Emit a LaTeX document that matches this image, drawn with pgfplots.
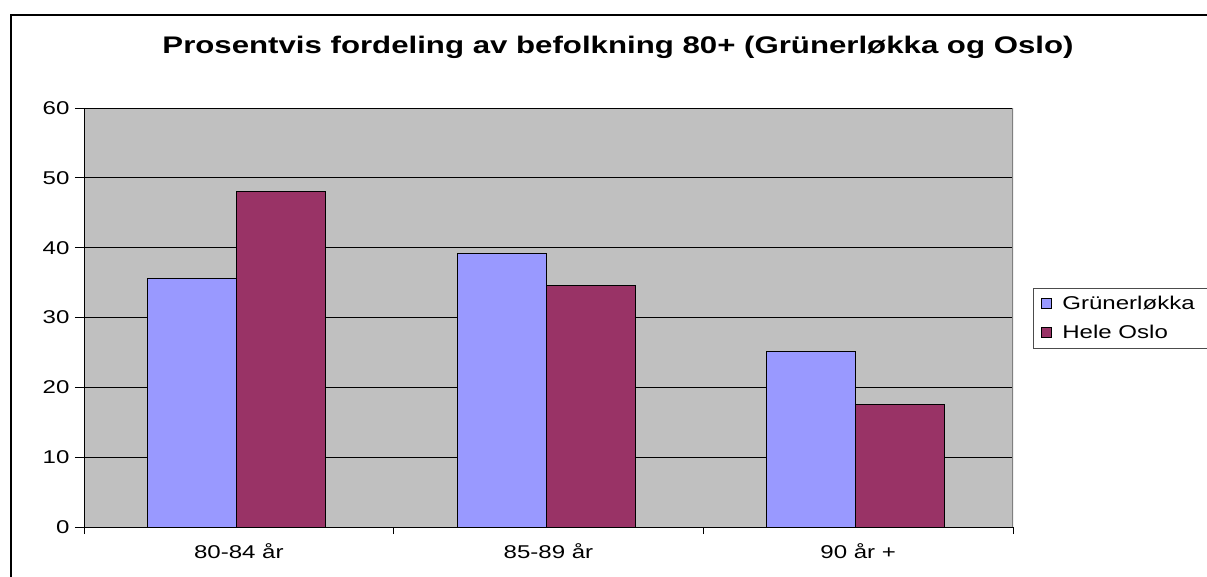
\documentclass[border=0pt]{standalone}
\usepackage{fontspec}
\setmainfont{Liberation Sans}[FakeStretch=1.3]
\usepackage{pgfplots}
\pgfplotsset{compat=1.18}
\definecolor{bgc}{HTML}{C0C0C0}
\definecolor{grun}{HTML}{9999FF}
\definecolor{oslo}{HTML}{993366}
\begin{document}
\begin{tikzpicture}[x=1pt,y=1pt]
\useasboundingbox (0,0) rectangle (1207,576);
\draw[line width=1.5pt,black] (11,-5) -- (11,561) -- (1215,561);
\node[font=\fontsize{24}{28}\selectfont\bfseries] at (618,529) {Prosentvis fordeling av befolkning 80+ (Grünerløkka og Oslo)};
\begin{axis}[
  at={(84pt,49pt)}, anchor=south west,
  scale only axis, width=929pt, height=419pt,
  xmin=-0.5, xmax=2.5, ymin=0, ymax=60,
  ytick={0,10,...,60},
  xtick={0,1,2},
  xticklabels={80-84 år, 85-89 år, 90 år +},
  minor xtick={-0.5,0.5,1.5,2.5},
  every major x tick/.style={draw=none},
  tick align=outside,
  major tick length=9pt,
  minor tick length=7pt,
  axis x line*=bottom, axis y line*=left,
  axis line style={black, line width=0.9pt},
  every tick/.style={black, line width=0.9pt},
  ymajorgrids,
  grid style={black, line width=0.9pt},
  axis background/.style={fill=bgc},
  tick label style={font=\fontsize{18.5}{22}\selectfont},
  /pgf/number format/assume math mode=true,
  yticklabel style={xshift=-2pt},
  xticklabel style={yshift=-4pt},
  ybar, bar width=89pt,
  legend style={at={(1.0215,0.5704)}, anchor=north west, draw=black!70, line width=0.8pt,
    font=\fontsize{18.5}{22}\selectfont, row sep=10pt, inner xsep=4pt, inner ysep=6pt,
    nodes={inner xsep=6pt}},
  legend cell align=left,
  legend image code/.code={\path[draw=none,fill=none] (0pt,0pt) -- (19pt,0pt);\draw[#1,draw=black,line width=0.8pt] (4pt,-5pt) rectangle (14pt,5pt);},
]
\addplot[fill=grun, draw=black, line width=0.9pt, bar shift=-47pt] coordinates {(0,35.6) (1,39.2) (2,25.2)};
\addlegendentry{Grünerløkka\rule{60pt}{0pt}}
\addplot[fill=oslo, draw=black, line width=0.9pt, bar shift=42pt] coordinates {(0,48.0) (1,34.6) (2,17.6)};
\addlegendentry{Hele Oslo}
\draw[black!50, line width=2pt] (rel axis cs:1,0) -- (rel axis cs:1,1);
\end{axis}
\end{tikzpicture}
\end{document}
